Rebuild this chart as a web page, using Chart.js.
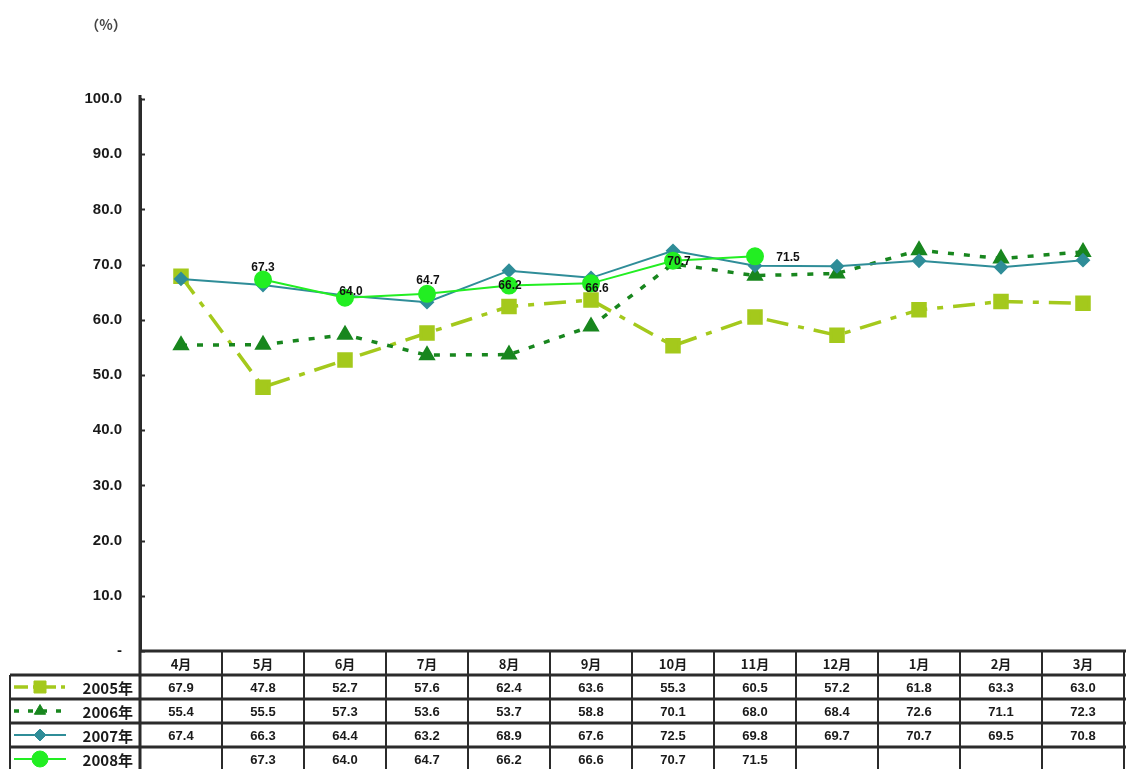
<!DOCTYPE html>
<html>
<head>
<meta charset="utf-8">
<script src="https://cdn.jsdelivr.net/npm/chart.js@4/dist/chart.umd.min.js"></script>
<style>
  html, body { margin: 0; padding: 0; background: #fff; }
  #wrap { position: relative; width: 1126px; height: 769px; }
</style>
</head>
<body>
<div id="wrap"><canvas id="c" width="1126" height="769"></canvas></div>
<script>
// Months (fiscal year, April to March)
const months = ['4月', '5月', '6月', '7月', '8月', '9月', '10月', '11月', '12月', '1月', '2月', '3月'];
const seriesNames = ['2005年', '2006年', '2007年', '2008年'];
const values2005 = [67.9, 47.8, 52.7, 57.6, 62.4, 63.6, 55.3, 60.5, 57.2, 61.8, 63.3, 63.0];
const values2006 = [55.4, 55.5, 57.3, 53.6, 53.7, 58.8, 70.1, 68.0, 68.4, 72.6, 71.1, 72.3];
const values2007 = [67.4, 66.3, 64.4, 63.2, 68.9, 67.6, 72.5, 69.8, 69.7, 70.7, 69.5, 70.8];
const values2008 = [null, 67.3, 64.0, 64.7, 66.2, 66.6, 70.7, 71.5, null, null, null, null];
const yTicks = [0, 10, 20, 30, 40, 50, 60, 70, 80, 90, 100];

const C2005 = '#a4c91c';
const C2006 = '#18861e';
const C2007 = '#2f8d98';
const C2008 = '#22ee22';
const INK = '#2b2b2b';
const NUM_FONT = 'bold 13px "Liberation Sans Narrow", "Liberation Sans", sans-serif';

function fmt(v) { return v == null ? '' : v.toFixed(1); }

// Value labels on the 2008 line, nudged away from the markers
const labelNudge = [null, [0, -12], [6, -6], [1, -13], [1, 0], [6, 5], [6, 1], [33, 1]];

const overlay = {
  id: 'overlay',
  afterDraw(chart) {
    const ctx = chart.ctx;
    const x = chart.scales.x, y = chart.scales.y;
    const area = chart.chartArea;
    ctx.save();

    // unit caption
    ctx.fillStyle = '#444';
    ctx.font = 'bold 14px "Noto Sans CJK JP", sans-serif';
    ctx.textAlign = 'center';
    ctx.textBaseline = 'middle';
    ctx.fillText('（%）', 106, 25);

    // small inward tick marks on the value axis
    ctx.strokeStyle = INK;
    ctx.lineWidth = 2;
    yTicks.forEach(v => {
      const py = Math.round(y.getPixelForValue(v)) + 0.5;
      ctx.beginPath(); ctx.moveTo(area.left, py); ctx.lineTo(area.left + 5, py); ctx.stroke();
    });

    // 2008 value labels
    const meta = chart.getDatasetMeta(3);
    ctx.font = 'bold 12px "Liberation Sans Narrow", "Liberation Sans", sans-serif';
    ctx.fillStyle = '#111';
    meta.data.forEach((pt, i) => {
      const v = values2008[i];
      if (v == null || !labelNudge[i]) return;
      ctx.fillText(fmt(v), pt.x + labelNudge[i][0], pt.y + labelNudge[i][1]);
    });

    // data table under the plot
    const top = area.bottom;
    const rowH = 24;
    const colW = (area.right - area.left) / months.length;
    const rows = [values2005, values2006, values2007, values2008];
    const legendLeft = 10;

    ctx.strokeStyle = INK;
    ctx.lineWidth = 3;
    for (let r = 0; r <= 5; r++) {
      const py = top + r * rowH;
      ctx.beginPath();
      ctx.moveTo(r === 0 ? area.left : legendLeft, py);
      ctx.lineTo(area.right + 2, py);
      ctx.stroke();
    }
    ctx.lineWidth = 2;
    for (let c = 0; c <= months.length; c++) {
      const px = area.left + c * colW;
      ctx.beginPath(); ctx.moveTo(px, top); ctx.lineTo(px, top + 5 * rowH); ctx.stroke();
    }
    ctx.beginPath(); ctx.moveTo(legendLeft, top + rowH); ctx.lineTo(legendLeft, top + 5 * rowH); ctx.stroke();
    ctx.lineWidth = 3;
    ctx.beginPath(); ctx.moveTo(area.left, area.top - 4); ctx.lineTo(area.left, top + 5 * rowH); ctx.stroke();

    // month headers and values
    ctx.fillStyle = '#1a1a1a';
    ctx.textAlign = 'center';
    ctx.textBaseline = 'middle';
    months.forEach((m, i) => {
      const cx = x.getPixelForValue(i);
      ctx.font = 'bold 13px "Noto Sans CJK JP", sans-serif';
      ctx.fillText(m, cx, top + rowH / 2 + 1);
      ctx.font = NUM_FONT;
      rows.forEach((arr, r) => {
        ctx.fillText(fmt(arr[i]), cx, top + rowH * (r + 1) + rowH / 2 + 1);
      });
    });

    // legend keys in the first column
    chart.data.datasets.forEach((d, r) => {
      const cy = top + rowH * (r + 1) + rowH / 2;
      ctx.save();
      ctx.strokeStyle = d.borderColor;
      ctx.lineWidth = d.borderWidth;
      ctx.setLineDash(d.legendDash || []);
      ctx.beginPath(); ctx.moveTo(legendLeft + 4, cy); ctx.lineTo(legendLeft + 56, cy); ctx.stroke();
      ctx.setLineDash([]);
      ctx.fillStyle = d.pointBackgroundColor;
      ctx.strokeStyle = d.pointBorderColor;
      ctx.lineWidth = 1;
      Chart.helpers.drawPoint(ctx, { pointStyle: d.pointStyle, radius: d.pointRadius, rotation: 0, borderWidth: 1 }, legendLeft + 30, cy);
      ctx.restore();
      ctx.fillStyle = '#1a1a1a';
      ctx.font = 'bold 15px "Noto Sans CJK JP", sans-serif';
      ctx.textAlign = 'right';
      ctx.fillText(d.label, area.left - 7, cy + 1);
    });

    ctx.restore();
  }
};

new Chart(document.getElementById('c'), {
  type: 'line',
  data: {
    labels: months,
    datasets: [
      {
        label: seriesNames[0], data: values2005, order: 3,
        borderColor: C2005, borderWidth: 3.5, borderDash: [22, 10, 6, 10], legendDash: [14, 5, 4, 5],
        pointStyle: 'rect', pointRadius: 8.5, pointBackgroundColor: C2005, pointBorderColor: C2005
      },
      {
        label: seriesNames[1], data: values2006, order: 2,
        borderColor: C2006, borderWidth: 3.5, borderDash: [6, 10], legendDash: [5, 9],
        pointStyle: 'triangle', pointRadius: 6.5, pointBackgroundColor: C2006, pointBorderColor: C2006
      },
      {
        label: seriesNames[2], data: values2007, order: 1,
        borderColor: C2007, borderWidth: 2,
        pointStyle: 'rectRot', pointRadius: 6, pointBackgroundColor: C2007, pointBorderColor: C2007
      },
      {
        label: seriesNames[3], data: values2008, order: 0,
        borderColor: C2008, borderWidth: 2,
        pointStyle: 'circle', pointRadius: 8, pointBackgroundColor: C2008, pointBorderColor: C2008
      }
    ]
  },
  options: {
    responsive: false,
    animation: false,
    spanGaps: false,
    layout: { autoPadding: false, padding: { left: 0, right: 2, top: 99, bottom: 118 } },
    plugins: { legend: { display: false }, tooltip: { enabled: false } },
    elements: { line: { tension: 0, borderCapStyle: 'butt' } },
    scales: {
      x: {
        type: 'category', offset: true, display: false
      },
      y: {
        min: 0, max: 100,
        afterFit(s) { s.width = 140; },
        afterBuildTicks(s) { s.ticks = yTicks.map(v => ({ value: v })); },
        border: { display: true, color: INK, width: 3 },
        grid: { drawOnChartArea: false, drawTicks: false },
        ticks: {
          padding: 18,
          color: '#1a1a1a',
          font: { family: '"Liberation Sans Narrow", "Liberation Sans", sans-serif', size: 15, weight: 'bold' },
          callback: v => v === 0 ? '-' : v.toFixed(1)
        }
      }
    }
  },
  plugins: [overlay]
});
</script>
</body>
</html>
